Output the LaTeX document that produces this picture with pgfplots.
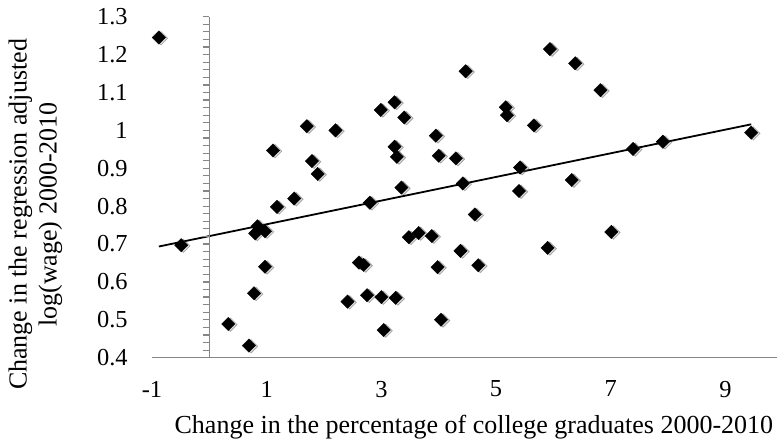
\documentclass[border=0pt]{standalone}
\usepackage{fontspec}
\setmainfont{Liberation Serif}
\usepackage{pgfplots}
\usepackage{pgfplotstable}
\pgfplotsset{compat=1.18}
\definecolor{axgray}{HTML}{868686}

\pgfplotstableread{
x y
-0.88 1.245
-0.49 0.697
0.33 0.489
0.69 0.432
0.78 0.570
0.80 0.728
0.84 0.747
0.97 0.734
0.97 0.640
1.11 0.947
1.18 0.798
1.48 0.820
1.70 1.011
1.79 0.919
1.89 0.885
2.20 1.000
2.41 0.548
2.61 0.651
2.69 0.645
2.75 0.565
2.80 0.809
2.99 1.054
3.00 0.560
3.04 0.473
3.23 1.074
3.23 0.957
3.25 0.558
3.27 0.930
3.35 0.849
3.40 1.034
3.48 0.718
3.65 0.729
3.88 0.721
3.95 0.986
3.98 0.639
4.00 0.933
4.04 0.500
4.30 0.926
4.38 0.682
4.42 0.860
4.47 1.156
4.63 0.778
4.69 0.644
5.17 1.061
5.19 1.040
5.40 0.840
5.42 0.902
5.66 1.013
5.90 0.690
5.94 1.2145
6.32 0.869
6.38 1.177
6.82 1.106
7.01 0.732
7.39 0.951
7.91 0.970
9.45 0.994
}\datatable

\pgfplotstableread{
x y
-0.88 0.6935
9.45 1.016
}\trendtable

\begin{document}
\begin{tikzpicture}
\begin{axis}[
  scale only axis, width=312.5pt, height=170.5pt,
  xmin=-1, xmax=9.9, ymin=0.4, ymax=1.3,
  clip=false,
  axis x line=bottom, axis y line=left,
  x axis line style={-, draw=axgray, line width=0.75pt},
  y axis line style={-, draw=none},
  xtick={-1,1,3,5,7,9}, xticklabels={-1,1,3,5,7,9},
  ytick={0.4,0.5,0.6,0.7,0.8,0.9,1,1.1,1.2,1.3},
  yticklabels={0.4,0.5,0.6,0.7,0.8,0.9,1,1.1,1.2,1.3},
  tick style={draw=none}, major tick length=0pt,
  tick label style={font=\fontsize{12.2}{14}\selectfont, inner sep=0pt},
  xticklabel style={anchor=north, yshift=-11.4pt},
  yticklabel style={anchor=east, xshift=-12pt},
]
\addplot[only marks, mark=square*, mark size=2.35pt,
  mark options={rotate=45, fill=black!40, draw=none, opacity=0.3, xshift=0.5pt, yshift=-1pt}]
  table[x=x,y=y] {\datatable};
\addplot[only marks, mark=square*, mark size=2.35pt,
  mark options={rotate=45, fill=black, draw=black, line width=0.2pt}]
  table[x=x,y=y] {\datatable};
\addplot[black, line width=0.9pt, no marks] table[x=x,y=y] {\trendtable};
\coordinate (ll) at (rel axis cs:0,0);
\coordinate (xl) at (rel axis cs:0.515,0);
\coordinate (yl) at (rel axis cs:0,0.42);
\end{axis}
\begin{axis}[
  scale only axis, width=312.5pt, height=170.5pt,
  xmin=-1, xmax=9.9, ymin=0.4, ymax=1.3,
  axis x line=none, axis y line=middle,
  y axis line style={-, draw=axgray, line width=0.75pt},
  ytick={0.4,0.5,0.6,0.7,0.8,0.9,1,1.1,1.2,1.3},
  yticklabel style={opacity=0}, xtick=\empty,
  minor y tick num=4,
  tick align=outside,
  major tick length=3.2pt, minor tick length=3.2pt,
  y tick style={draw=axgray, line width=0.6pt},
]
\end{axis}
\node[anchor=north, inner sep=0pt, font=\fontsize{13}{15}\selectfont] at ([yshift=-28.6pt]xl)
  {Change in the percentage of college graduates 2000-2010};
\node[rotate=90, anchor=south, align=center, inner sep=0pt, font=\fontsize{13}{15}\selectfont] at ([xshift=-44.7pt]yl)
  {Change in the regression adjusted\\log(wage) 2000-2010};
\pgfresetboundingbox
\path (ll) ++(-76pt,-43.65pt) rectangle ++(388.5pt,222.5pt);
\end{tikzpicture}
\end{document}
